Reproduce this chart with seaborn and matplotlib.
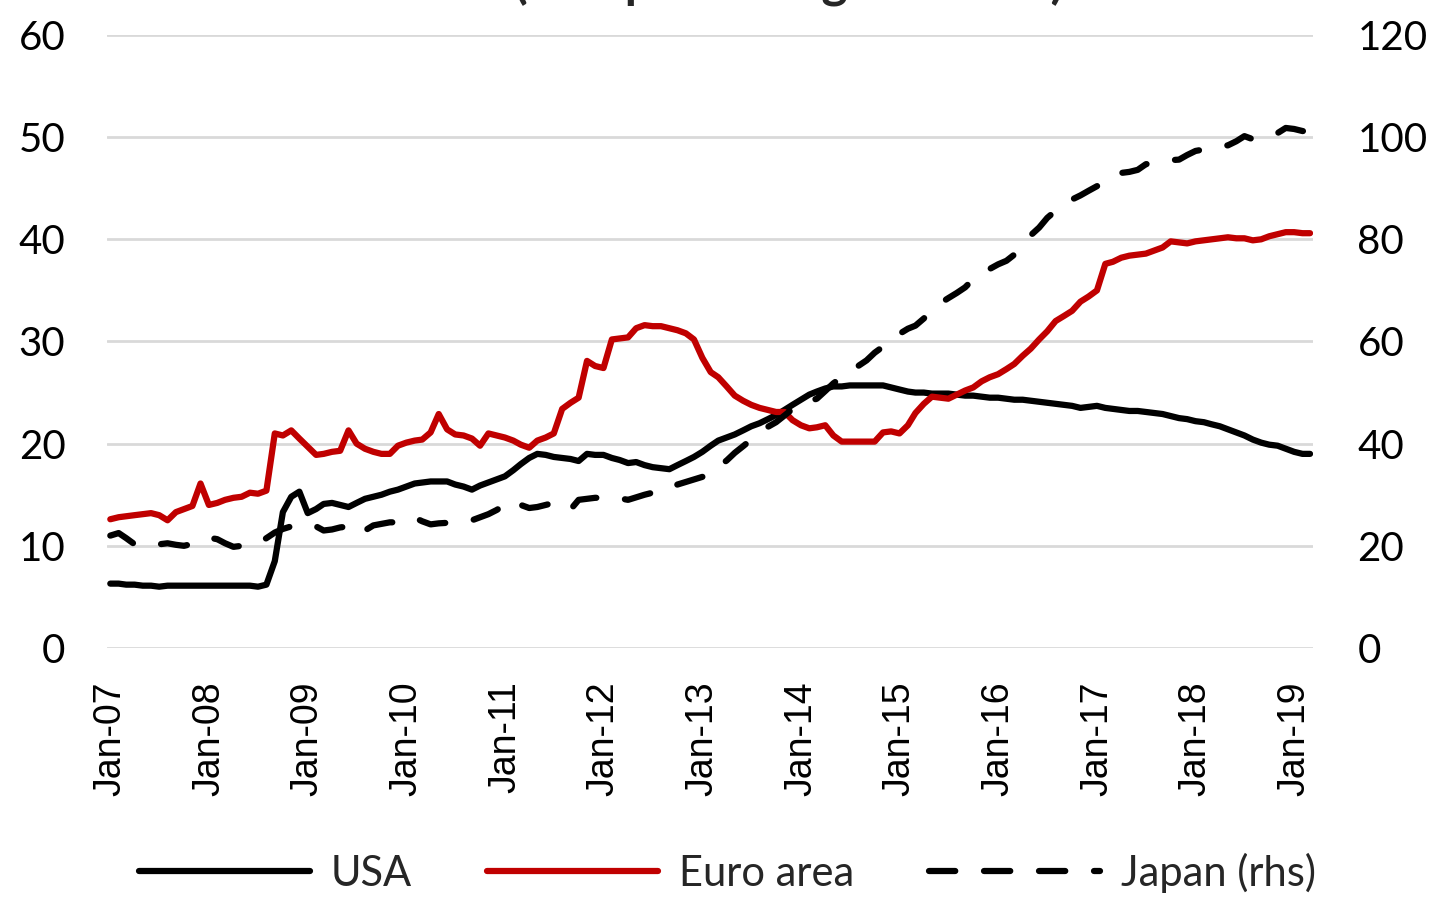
import pandas as pd
import matplotlib
matplotlib.use("Agg")
import matplotlib.pyplot as plt
import matplotlib.dates as mdates
import seaborn as sns

# monthly data, Jan-07 .. Mar-19
usa = [6.3, 6.3, 6.2, 6.2, 6.1, 6.1, 6.0, 6.1, 6.1, 6.1, 6.1, 6.1,
       6.1, 6.1, 6.1, 6.1, 6.1, 6.1, 6.0, 6.2, 8.5, 13.3, 14.8, 15.3,
       13.2, 13.6, 14.1, 14.2, 14.0, 13.8, 14.2, 14.6, 14.8, 15.0, 15.3, 15.5,
       15.8, 16.1, 16.2, 16.3, 16.3, 16.3, 16.0, 15.8, 15.5, 15.9, 16.2, 16.5,
       16.8, 17.4, 18.0, 18.6, 19.0, 18.9, 18.7, 18.6, 18.5, 18.3, 19.0, 18.9,
       18.9, 18.6, 18.4, 18.1, 18.2, 17.9, 17.7, 17.6, 17.5, 17.9, 18.3, 18.7,
       19.2, 19.8, 20.3, 20.6, 20.9, 21.3, 21.7, 22.0, 22.4, 22.8, 23.3, 23.8,
       24.3, 24.8, 25.1, 25.4, 25.6, 25.6, 25.7, 25.7, 25.7, 25.7, 25.7, 25.5,
       25.3, 25.1, 25.0, 25.0, 24.9, 24.9, 24.9, 24.8, 24.7, 24.7, 24.6, 24.5,
       24.5, 24.4, 24.3, 24.3, 24.2, 24.1, 24.0, 23.9, 23.8, 23.7, 23.5, 23.6,
       23.7, 23.5, 23.4, 23.3, 23.2, 23.2, 23.1, 23.0, 22.9, 22.7, 22.5, 22.4,
       22.2, 22.1, 21.9, 21.7, 21.4, 21.1, 20.8, 20.4, 20.1, 19.9, 19.8, 19.5,
       19.2, 19.0, 19.0]

euro = [12.6, 12.8, 12.9, 13.0, 13.1, 13.2, 13.0, 12.5, 13.3, 13.6, 13.9, 16.1,
        14.0, 14.2, 14.5, 14.7, 14.8, 15.2, 15.1, 15.4, 21.0, 20.8, 21.3, 20.5,
        19.7, 18.9, 19.0, 19.2, 19.3, 21.3, 20.0, 19.5, 19.2, 19.0, 19.0, 19.8,
        20.1, 20.3, 20.4, 21.1, 22.9, 21.4, 20.9, 20.8, 20.5, 19.8, 21.0, 20.8,
        20.6, 20.3, 19.9, 19.6, 20.3, 20.6, 21.0, 23.4, 24.0, 24.5, 28.1, 27.6,
        27.4, 30.2, 30.3, 30.4, 31.3, 31.6, 31.5, 31.5, 31.3, 31.1, 30.8, 30.2,
        28.4, 27.0, 26.5, 25.6, 24.7, 24.2, 23.8, 23.5, 23.3, 23.1, 23.1, 22.3,
        21.8, 21.5, 21.6, 21.8, 20.8, 20.2, 20.2, 20.2, 20.2, 20.2, 21.1, 21.2,
        21.0, 21.8, 23.0, 23.9, 24.6, 24.5, 24.4, 24.8, 25.2, 25.5, 26.1, 26.5,
        26.8, 27.3, 27.8, 28.6, 29.3, 30.2, 31.0, 32.0, 32.5, 33.0, 33.9, 34.4,
        35.0, 37.6, 37.8, 38.2, 38.4, 38.5, 38.6, 38.9, 39.2, 39.8, 39.7, 39.6,
        39.8, 39.9, 40.0, 40.1, 40.2, 40.1, 40.1, 39.9, 40.0, 40.3, 40.5, 40.7,
        40.7, 40.6, 40.6]

japan = [22.0, 22.5, 21.5, 20.3, 20.0, 20.0, 20.3, 20.5, 20.2, 20.0, 20.4, 21.0,
         21.6, 21.3, 20.5, 19.8, 20.0, 20.3, 20.5, 21.5, 22.6, 23.3, 23.8, 24.3,
         24.1, 23.8, 23.0, 23.2, 23.6, 23.8, 22.4, 23.0, 24.0, 24.3, 24.6, 24.6,
         25.0, 25.5, 24.8, 24.2, 24.4, 24.5, 24.7, 24.7, 25.0, 25.6, 26.2, 27.0,
         28.0, 29.0, 28.0, 27.4, 27.6, 28.0, 28.4, 28.0, 27.1, 29.0, 29.2, 29.4,
         29.4, 29.5, 29.3, 29.0, 29.5, 30.0, 30.4, 30.6, 31.3, 32.0, 32.5, 33.0,
         33.5, 34.0, 35.5, 36.7, 38.2, 39.5, 40.8, 42.0, 43.3, 44.2, 45.5, 46.8,
         47.8, 48.3, 48.8, 50.3, 51.8, 53.0, 54.0, 55.2, 56.3, 57.8, 59.0, 60.2,
         61.5, 62.5, 63.1, 64.5, 66.2, 67.5, 68.5, 69.5, 70.6, 72.2, 73.5, 74.2,
         75.1, 75.8, 77.0, 79.0, 80.8, 82.3, 84.2, 85.6, 86.8, 87.8, 88.6, 89.5,
         90.4, 91.3, 92.3, 93.0, 93.2, 93.6, 94.7, 95.0, 95.3, 95.5, 95.6, 96.5,
         97.3, 97.6, 97.9, 98.2, 98.4, 99.2, 100.2, 99.6, 100.2, 100.6, 100.8, 101.8,
         101.6, 101.2, 101.0]

dates = pd.date_range("2007-01-01", periods=len(usa), freq="MS")
df = pd.DataFrame({"date": dates, "USA": usa, "Euro area": euro, "Japan (rhs)": japan})

sns.set_theme(style="white")
plt.rcParams["font.family"] = ["Lato", "DejaVu Sans"]

fig = plt.figure(figsize=(14.35, 8.97), dpi=100)
ax = fig.add_axes([0.0746, 0.2776, 0.8404, 0.6834])
ax2 = ax.twinx()

lw = 4.5
sns.lineplot(data=df, x="date", y="USA", ax=ax, color="black", lw=lw, label="USA", legend=False)
sns.lineplot(data=df, x="date", y="Euro area", ax=ax, color="#C00000", lw=lw, label="Euro area", legend=False)
sns.lineplot(data=df, x="date", y="Japan (rhs)", ax=ax2, color="black", lw=lw, label="Japan (rhs)", legend=False)
jl = ax2.get_lines()[-1]
jl.set_dashes([4.2, 4.6])
jl.set_dash_capstyle("round")
for l in ax.get_lines():
    l.set_solid_capstyle("round")

ax.set_ylim(0, 60)
ax2.set_ylim(0, 120)
ax.set_yticks(range(0, 61, 10))
ax2.set_yticks(range(0, 121, 20))
ax.set_xlim(pd.Timestamp("2006-12-20"), pd.Timestamp("2019-03-12"))
ax.set_xticks(pd.date_range("2007-01-01", "2019-01-01", freq="YS"))
ax.xaxis.set_major_formatter(mdates.DateFormatter("%b-%y"))

ax.grid(axis="y", color="#d9d9d9", lw=2)
ax.set_axisbelow(True)
for a in (ax, ax2):
    for s in a.spines.values():
        s.set_visible(False)
    a.set_xlabel("")
    a.set_ylabel("")
ax.tick_params(axis="y", length=0, pad=30, labelsize=29, colors="black")
ax2.tick_params(axis="y", length=0, pad=32, labelsize=29, colors="black")
ax.tick_params(axis="x", length=0, pad=24, labelsize=27, colors="black")
for t in ax.get_xticklabels():
    t.set_rotation(90)
    t.set_fontfamily("Liberation Sans")

handles = ax.get_lines() + ax2.get_lines()
fig.legend(handles, ["USA", "Euro area", "Japan (rhs)"], loc="center",
           bbox_to_anchor=(0.507, 0.027), ncol=3, frameon=False, fontsize=30,
           handlelength=4.1, handletextpad=0.5, columnspacing=1.8)

# title sits mostly above the visible area, as in the source image
fig.text(0.55, 1.003, "(as a percentage of GDP)", ha="center", va="baseline",
         fontsize=36, fontweight="bold")

fig.savefig("out.png", dpi=100)
